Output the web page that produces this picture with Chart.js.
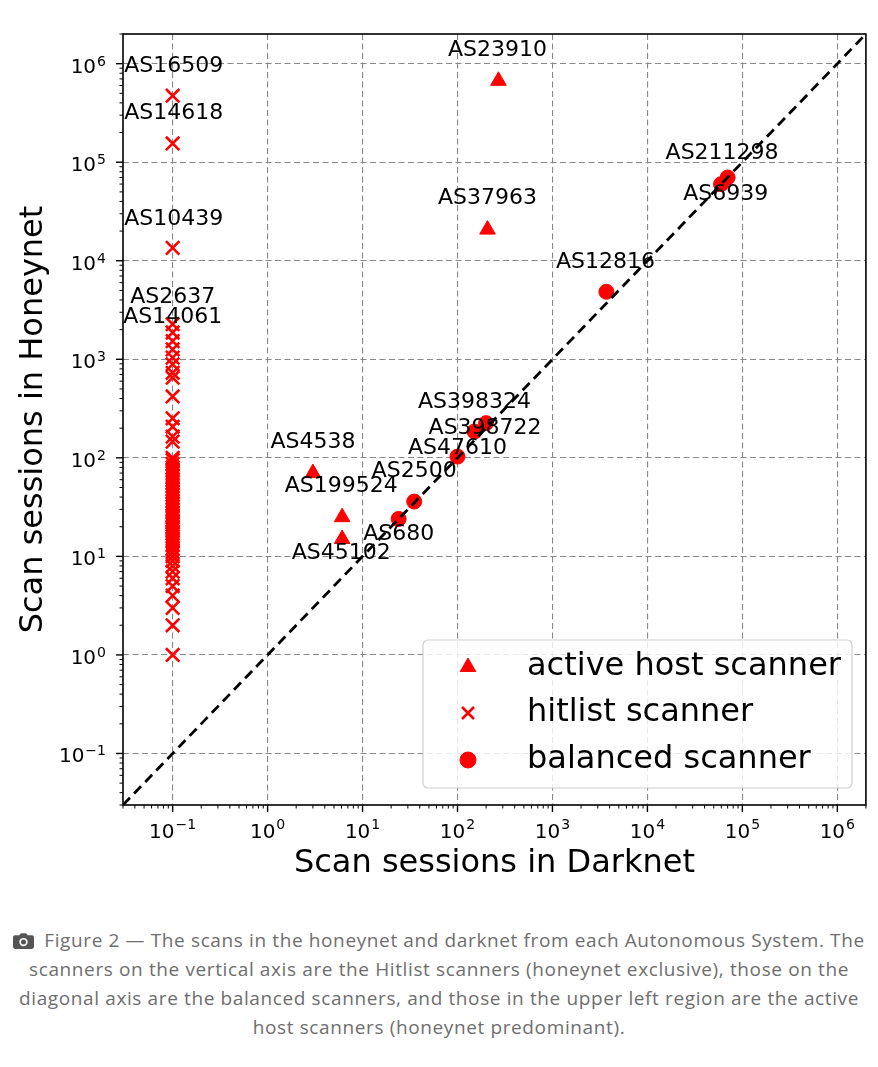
<!DOCTYPE html>
<html>
<head>
<meta charset="utf-8">
<script src="https://cdn.jsdelivr.net/npm/chart.js@4.4.1/dist/chart.umd.min.js"></script>
<style>
  html, body { margin: 0; padding: 0; background: #fff; }
  #wrap { position: relative; width: 878px; height: 900px; }
  #caption {
    width: 878px; margin-top: 26px; text-align: center;
    font-family: 'Open Sans', 'Noto Sans', sans-serif; font-size: 19px; line-height: 29px;
    letter-spacing: 0.62px; color: #6e6e6e;
  }
  #caption svg { vertical-align: -2px; margin-right: 10px; }
</style>
</head>
<body>
<div id="wrap"><canvas id="chart" width="878" height="900"></canvas></div>
<div id="caption">
  <svg width="21" height="17" viewBox="0 0 20 16"><path d="M2 3h4l1.5-2h5L14 3h4a2 2 0 0 1 2 2v9a2 2 0 0 1-2 2H2a2 2 0 0 1-2-2V5a2 2 0 0 1 2-2z" fill="#555"/><circle cx="10" cy="9.5" r="4" fill="#fff"/><circle cx="10" cy="9.5" r="2.4" fill="#555"/></svg>Figure 2 — The scans in the honeynet and darknet from each Autonomous System. The<br>
  scanners on the vertical axis are the Hitlist scanners (honeynet exclusive), those on the<br>
  diagonal axis are the balanced scanners, and those in the upper left region are the active<br>
  host scanners (honeynet predominant).
</div>
<script>
// active host scanners (honeynet predominant)
const activeNames = ['AS23910', 'AS37963', 'AS4538', 'AS199524', 'AS45102'];
const activeDarknet = [270, 207, 3, 6.1, 6.1];
const activeHoneynet = [670000, 20700, 70, 25, 15];

// hitlist scanners (honeynet exclusive), all plotted at darknet = 0.1
const hitlistDarknetValue = 0.1;
const hitlistNames = ['AS16509', 'AS14618', 'AS10439', 'AS2637', 'AS14061'];
const hitlistHoneynet = [473000, 155000, 13500, 2270, 1870,
  1530, 1260, 1040, 890, 730, 650, 420, 252, 207, 164, 146, 100, 95, 87, 80, 75, 70, 65,
  60, 56, 52, 48, 45, 42, 39, 36, 34, 32, 30, 28, 26, 25, 23, 22, 21, 20, 19, 18, 17, 16,
  15, 14, 13, 12, 11, 10, 9, 8, 7, 6, 5, 4, 3, 2, 1];

// balanced scanners
const balancedNames = ['AS211298', 'AS6939', 'AS12816', 'AS398324', 'AS398722', 'AS47610', 'AS2500', 'AS680'];
const balancedDarknet = [59700, 70000, 3700, 151, 200, 100, 35, 24];
const balancedHoneynet = [59900, 70000, 4840, 185, 225, 103, 36, 24];

const diagonal = [0.03, 2e6];
const xTicks = [0.1, 1, 10, 100, 1e3, 1e4, 1e5, 1e6];
const yTicks = [0.1, 1, 10, 100, 1e3, 1e4, 1e5, 1e6];
const axisMin = 0.03, axisMax = 2e6;

// label placement (pixels from the marker)
const labelShift = {
  AS16509: [1, -29], AS14618: [1, -30], AS10439: [1, -29], AS2637: [0, -27], AS14061: [0, -15],
  AS23910: [-1, -31], AS37963: [0, -31], AS4538: [0, -31], AS199524: [-1, -31], AS45102: [-1, 14],
  AS211298: [1, -31], AS6939: [-2, 17], AS12816: [-1, -30], AS398324: [0, -29], AS398722: [-1, 5],
  AS47610: [0, -8], AS2500: [0, -30], AS680: [0, 15]
};

const red = '#ff0000';
Chart.defaults.font.family = "'DejaVu Sans', sans-serif";
Chart.defaults.color = '#000';

const exponent = v => String(Math.round(Math.log10(v))).replace('-', '\u2212');

function pts(xs, ys, names) {
  return ys.map((y, i) => ({ x: Array.isArray(xs) ? xs[i] : xs, y: y, name: names[i] || '' }));
}

// tick label "10" with a raised exponent, right edge or centre at x
function powerLabel(ctx, v, x, base, supBase, align) {
  ctx.font = "20px 'DejaVu Sans'";
  const wb = ctx.measureText('10').width;
  ctx.font = "14px 'DejaVu Sans'";
  const e = exponent(v);
  const ws = ctx.measureText(e).width;
  const left = align === 'right' ? x - wb - ws - 1 : x - (wb + ws + 1) / 2;
  ctx.textAlign = 'left';
  ctx.textBaseline = 'alphabetic';
  ctx.font = "20px 'DejaVu Sans'";
  ctx.fillText('10', left, base);
  ctx.font = "14px 'DejaVu Sans'";
  ctx.fillText(e, left + wb + 1, supBase);
}

// spines, tick marks, tick labels, point labels, legend
const decor = {
  id: 'decor',
  afterDatasetsDraw(chart) {
    const ctx = chart.ctx;
    ctx.save();
    ctx.fillStyle = '#000';
    ctx.font = "22px 'DejaVu Sans'";
    ctx.textAlign = 'center';
    ctx.textBaseline = 'middle';
    chart.data.datasets.forEach((ds, di) => {
      const meta = chart.getDatasetMeta(di);
      ds.data.forEach((p, i) => {
        if (!p.name) return;
        const el = meta.data[i];
        const s = labelShift[p.name] || [0, -30];
        ctx.fillText(p.name, el.x + s[0], el.y + s[1]);
      });
    });
    ctx.restore();
  },
  afterDraw(chart) {
    const ctx = chart.ctx;
    const a = chart.chartArea;
    const xs = chart.scales.x, ys = chart.scales.y;
    ctx.save();
    ctx.strokeStyle = '#000';
    // minor / major ticks
    for (let e = -2; e <= 6; e++) {
      for (let k = 1; k <= 9; k++) {
        const v = k * Math.pow(10, e);
        if (v < axisMin || v > axisMax) continue;
        const len = k === 1 ? 7 : 3.5;
        ctx.lineWidth = k === 1 ? 1.4 : 1;
        const px = xs.getPixelForValue(v);
        ctx.beginPath(); ctx.moveTo(px, a.bottom); ctx.lineTo(px, a.bottom + len); ctx.stroke();
        const py = ys.getPixelForValue(v);
        ctx.beginPath(); ctx.moveTo(a.left, py); ctx.lineTo(a.left - len, py); ctx.stroke();
      }
    }
    ctx.lineWidth = 1.6;
    ctx.strokeRect(a.left, a.top, a.right - a.left, a.bottom - a.top);

    // tick labels
    ctx.fillStyle = '#000';
    xs.ticks.forEach(t => {
      powerLabel(ctx, t.value, xs.getPixelForValue(t.value), a.bottom + 33, a.bottom + 24, 'center');
    });
    ys.ticks.forEach(t => {
      const py = ys.getPixelForValue(t.value);
      powerLabel(ctx, t.value, a.left - 17, py + 9, py + 2, 'right');
    });

    // legend
    const bx = 423, by = 640, bw = 429, bh = 148;
    ctx.beginPath();
    ctx.roundRect(bx, by, bw, bh, 5);
    ctx.fillStyle = 'rgba(255,255,255,0.82)';
    ctx.fill();
    ctx.strokeStyle = '#cfcfcf';
    ctx.lineWidth = 1.2;
    ctx.stroke();
    const rows = [667, 713, 760];
    [0, 1, 2].forEach((di, r) => {
      const ds = chart.data.datasets[di];
      ctx.save();
      ctx.fillStyle = red; ctx.strokeStyle = red; ctx.lineWidth = ds.borderWidth;
      Chart.helpers.drawPoint(ctx, {
        pointStyle: ds.pointStyle, radius: ds.legendRadius, rotation: 0, borderWidth: ds.borderWidth
      }, 468, rows[r]);
      ctx.restore();
      ctx.fillStyle = '#000';
      ctx.font = "32px 'DejaVu Sans'";
      ctx.textAlign = 'left';
      ctx.textBaseline = 'middle';
      ctx.fillText(ds.label, 527, rows[r]);
    });
    ctx.restore();
  }
};

const logAxis = (ticks, title, isX) => ({
  type: 'logarithmic',
  min: axisMin,
  max: axisMax,
  afterBuildTicks: s => { s.ticks = ticks.map(v => ({ value: v })); },
  afterFit: s => { if (isX) s.height = 95; else s.width = 123; },
  grid: { color: '#888888', lineWidth: 1.1, drawTicks: false },
  border: { display: false, dash: [6, 3.5] },
  ticks: { display: false, autoSkip: false, maxRotation: 0 },
  title: {
    display: true, text: title, color: '#000',
    font: { size: 32 },
    padding: isX ? { top: 0, bottom: 17 } : { top: 14, bottom: 0 }
  }
});

new Chart(document.getElementById('chart'), {
  type: 'scatter',
  data: {
    datasets: [
      {
        label: 'active host scanner', order: 1,
        data: pts(activeDarknet, activeHoneynet, activeNames),
        pointStyle: 'triangle', pointRadius: 9, legendRadius: 9,
        backgroundColor: red, borderColor: red, borderWidth: 1
      },
      {
        label: 'hitlist scanner', order: 1,
        data: pts(hitlistDarknetValue, hitlistHoneynet, hitlistNames),
        pointStyle: 'crossRot', pointRadius: 9.5, legendRadius: 8.5,
        backgroundColor: red, borderColor: red, borderWidth: 2.6
      },
      {
        label: 'balanced scanner', order: 1,
        data: pts(balancedDarknet, balancedHoneynet, balancedNames),
        pointStyle: 'circle', pointRadius: 7.5, legendRadius: 8,
        backgroundColor: red, borderColor: red, borderWidth: 1
      },
      {
        type: 'line', label: 'diagonal', order: 0,
        data: diagonal.map(v => ({ x: v, y: v })),
        borderColor: '#000', borderWidth: 2.8, borderDash: [10, 6],
        pointRadius: 0, fill: false
      }
    ]
  },
  options: {
    responsive: false,
    animation: false,
    layout: { padding: { left: 0, top: 34, right: 12, bottom: 0 } },
    plugins: { legend: { display: false }, tooltip: { enabled: false } },
    scales: {
      x: logAxis(xTicks, 'Scan sessions in Darknet', true),
      y: logAxis(yTicks, 'Scan sessions in Honeynet', false)
    }
  },
  plugins: [decor]
});
</script>
</body>
</html>
